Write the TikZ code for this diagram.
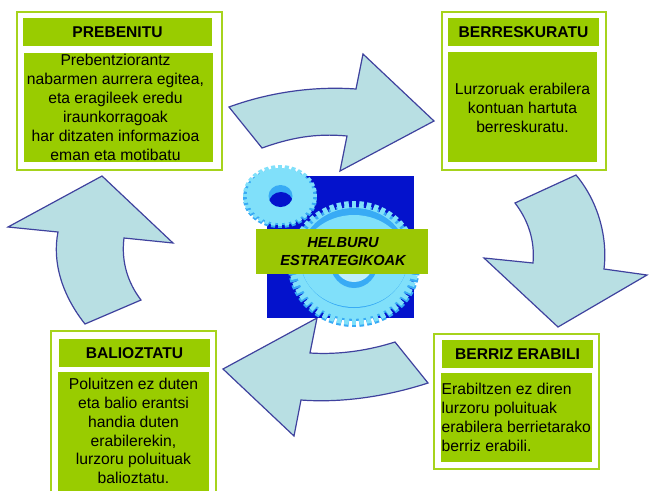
\documentclass[tikz,border=0pt]{standalone}
\usepackage{fontspec}
\setmainfont{Liberation Sans}
\definecolor{boxgreen}{HTML}{99CC00}
\definecolor{bannergreen}{HTML}{9BC704}
\definecolor{edgegreen}{HTML}{A6D31C}
\definecolor{arrowfill}{HTML}{B8DFE3}
\definecolor{arrowline}{HTML}{3F429E}
\definecolor{deepblue}{HTML}{0412CC}
\definecolor{gearlight}{HTML}{80E0FA}
\definecolor{gearmid}{HTML}{38ABF5}
\tikzset{
  outerbox/.style={draw=edgegreen,line width=2pt,fill=white},
  titlebox/.style={fill=boxgreen,inner sep=0pt,font=\fontsize{15.6}{18}\selectfont\bfseries,text=black},
  bodybox/.style={fill=boxgreen,inner sep=0pt},
  bodytext/.style={font=\fontsize{15.7}{18.9}\selectfont,align=center,inner sep=0pt},
  flow/.style={draw=arrowline,fill=arrowfill,line width=1.2pt,line join=miter},
}
\newcommand{\geartoothset}[5]{%cx cy rx ry n
  \begin{scope}[shift={(#1,#2)},xscale=#3,yscale=#4]
    \pgfmathsetmacro{\stepang}{360/#5}
    \foreach \k in {1,...,#5}{
      \pgfmathsetmacro{\ang}{\k*\stepang}
      \fill[rotate=\ang] (0.8,-0.29*\stepang/57.3) rectangle (1,0.29*\stepang/57.3);
    }
    \fill (0,0) circle (0.9);
  \end{scope}}
\begin{document}
\begin{tikzpicture}[x=1pt,y=-1pt]
\useasboundingbox (0,0) rectangle (650,491);
% arrows
\draw[flow] (229,107) .. controls (270,92) and (315,86) .. (356,89) -- (363,54) -- (434,121) -- (340,171) -- (347,136) .. controls (315,133) and (290,138) .. (262,148) -- cycle;
\draw[flow] (576,175) .. controls (597,200) and (608,235) .. (604,269) -- (647,275) -- (558,327) -- (484,258) -- (533,263) .. controls (535,240) and (528,220) .. (515,203) -- cycle;
\draw[flow] (428,383) .. controls (385,397) and (340,403) .. (301,400) -- (294,436) -- (223,369) -- (317,318) -- (310,353) .. controls (340,355) and (370,350) .. (395,342) -- cycle;
\draw[flow] (85,324) .. controls (62,295) and (52,262) .. (58,232) -- (8,227) -- (102,176) -- (173,243) -- (124,238) .. controls (121,262) and (128,283) .. (141,300) -- cycle;
% picture
\fill[deepblue] (267,176) rectangle (414,318);
% big gear
\begin{scope}[gearmid]\geartoothset{354}{266}{66}{61}{52}\end{scope}
\begin{scope}[gearlight]\geartoothset{354}{263}{65}{62}{52}\end{scope}
\fill[gearmid] (354,258) ellipse (54 and 50);
\fill[gearlight] (354,261) ellipse (53 and 46);
\fill[gearmid] (354,262) ellipse (24 and 26);
\fill[gearlight!50!white] (354,261) ellipse (20 and 21);
% small gear
\begin{scope}[gearmid]\geartoothset{280}{198}{37}{30}{32}\end{scope}
\begin{scope}[gearlight]\geartoothset{280}{195.5}{37}{30.5}{32}\end{scope}
\fill[gearmid] (280.5,196) ellipse (12 and 11);
\begin{scope}
  \clip (280.5,196) ellipse (12 and 11);
  \fill[deepblue] (281,203) ellipse (12 and 11);
\end{scope}
% banner
\node[fill=bannergreen,minimum width=172pt,minimum height=45pt,inner sep=0pt] (banner) at (342,251.5) {};
\node[font=\fontsize{14.6}{18}\selectfont\bfseries\itshape,align=center,inner sep=0pt] (bannertext) at (343,251.5) {HELBURU\\ESTRATEGIKOAK};
% PREBENITU
\node[outerbox,minimum width=205pt,minimum height=158pt,inner sep=0pt] (o1) at (119.5,91) {};
\node[titlebox,minimum width=189pt,minimum height=28pt] (t1) at (117.5,32) {PREBENITU};
\node[bodybox,minimum width=189pt,minimum height=109pt] (b1) at (118.5,107.5) {};
\node[bodytext] (x1) at (115.5,107.5) {Prebentziorantz\\nabarmen aurrera egitea,\\eta eragileek eredu\\iraunkorragoak\\har ditzaten informazioa\\eman eta motibatu};
% BERRESKURATU
\node[outerbox,minimum width=164pt,minimum height=158pt,inner sep=0pt] (o2) at (524,91) {};
\node[titlebox,minimum width=151pt,minimum height=28pt] (t2) at (523.5,32) {BERRESKURATU};
\node[bodybox,minimum width=149pt,minimum height=110pt] (b2) at (522.5,107) {};
\node[bodytext] (x2) at (522.5,108) {Lurzoruak erabilera\\kontuan hartuta\\berreskuratu.};
% BERRIZ ERABILI
\node[outerbox,minimum width=165pt,minimum height=135pt,inner sep=0pt] (o3) at (516.5,401.5) {};
\node[titlebox,minimum width=151pt,minimum height=28pt] (t3) at (517.5,354) {BERRIZ ERABILI};
\node[bodybox,minimum width=151pt,minimum height=89pt] (b3) at (516.5,417.5) {};
\node[bodytext,align=left,anchor=west] (x3) at (441.5,417.5) {Erabiltzen ez diren\\lurzoru poluituak\\erabilera berrietarako\\berriz erabili.};
% BALIOZTATU
\draw[edgegreen,line width=2pt,fill=white] (51,491) -- (51,331) -- (216,331) -- (216,491);
\node[titlebox,minimum width=151pt,minimum height=28pt] (t4) at (134.5,353) {BALIOZTATU};
\node[bodybox,minimum width=151pt,minimum height=119pt] (b4) at (133.5,431.5) {};
\node[bodytext] (x4) at (133.5,431) {Poluitzen ez duten\\eta balio erantsi\\handia duten\\erabilerekin,\\lurzoru poluituak\\balioztatu.};
\end{tikzpicture}
\end{document}
